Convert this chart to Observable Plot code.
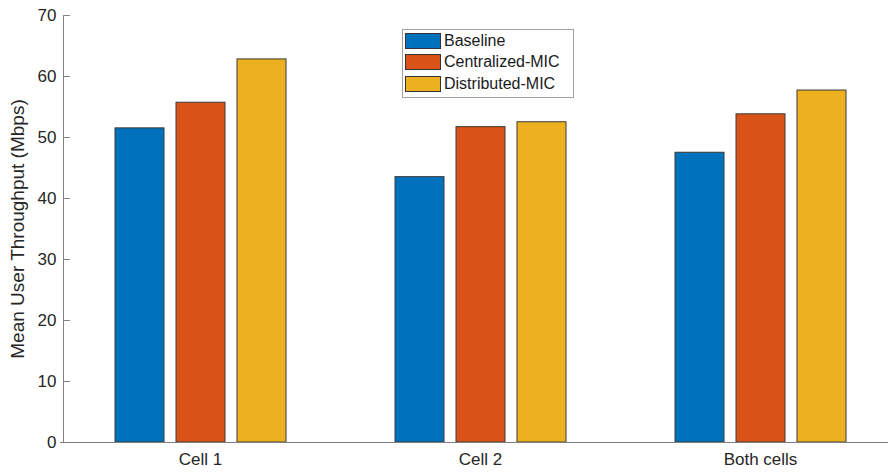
<!DOCTYPE html>
<html>
<head>
<meta charset="utf-8">
<script src="https://cdn.jsdelivr.net/npm/d3@7"></script>
<script src="https://cdn.jsdelivr.net/npm/@observablehq/plot@0.6"></script>
<style>
  html, body { margin: 0; padding: 0; background: #fff; overflow: hidden; }
  #wrap { position: relative; width: 888px; height: 475px; overflow: hidden; font-family: "Liberation Sans", Arial, sans-serif; }
  #legend { position: absolute; left: 402px; top: 29px; width: 170px; height: 67px; border: 1px solid #a0a0a0; background: #fff; box-sizing: content-box; }
  .item { position: absolute; left: 2px; height: 17px; display: flex; align-items: center; font-size: 16px; color: #1a1a1a; }
  .sw { width: 36px; height: 16px; border: 1px solid #333; box-sizing: border-box; margin-right: 3px; }
</style>
</head>
<body>
<div id="wrap"></div>
<script>
const categories = ["Cell 1", "Cell 2", "Both cells"];
const series = ["Baseline", "Centralized-MIC", "Distributed-MIC"];
const baseline = [51.5, 43.5, 47.5];
const centralized = [55.7, 51.7, 53.8];
const distributed = [62.8, 52.5, 57.7];
const colors = ["#0072BD", "#D95319", "#EDB120"];
const yTicks = [0, 10, 20, 30, 40, 50, 60, 70];
const yLabel = "Mean User Throughput (Mbps)";

const values = [baseline, centralized, distributed];
const data = [];
categories.forEach((c, i) => series.forEach((s, j) => data.push({category: c, series: s, value: values[j][i]})));

const chart = Plot.plot({
  width: 888,
  height: 475,
  marginLeft: 60,
  marginRight: -12,
  marginTop: 15,
  marginBottom: 33,
  style: {fontFamily: "Liberation Sans, Arial, sans-serif", background: "#fff", overflow: "hidden"},
  fx: {domain: categories, padding: 0, label: null},
  x: {domain: series, axis: null, paddingInner: 0.2, paddingOuter: 0.86},
  y: {domain: [0, 70], label: null},
  color: {domain: series, range: colors},
  marks: [
    Plot.barY(data, {fx: "category", x: "series", y: "value", fill: "series", stroke: "#3a3a3a", strokeWidth: 1}),
    Plot.ruleY([0], {stroke: "#808080", strokeWidth: 1}),
    Plot.frame({anchor: "left", stroke: "#808080", facetAnchor: "left", dx: 3}),
    Plot.axisY(yTicks, {dx: 3, tickSize: -7, tickPadding: 14, fontSize: 17, color: "#808080", fill: "#262626", label: yLabel, labelAnchor: "center", labelArrow: "none", labelOffset: 50}),
    Plot.axisFx({anchor: "bottom", tickSize: 0, tickPadding: 10, fontSize: 17, fill: "#262626", label: null})
  ]
});
document.getElementById("wrap").appendChild(chart);

// enlarge the y axis title
d3.select(chart).selectAll("text").filter(function() { return this.textContent === yLabel; })
  .attr("font-size", 19).attr("fill", "#262626");

const legend = document.createElement("div");
legend.id = "legend";
series.forEach((s, i) => {
  const it = document.createElement("div");
  it.className = "item";
  it.style.top = (2 + i * 21.7) + "px";
  const sw = document.createElement("div");
  sw.className = "sw";
  sw.style.background = colors[i];
  const tx = document.createElement("span");
  tx.textContent = s;
  it.appendChild(sw); it.appendChild(tx);
  legend.appendChild(it);
});
document.getElementById("wrap").appendChild(legend);
</script>
</body>
</html>
